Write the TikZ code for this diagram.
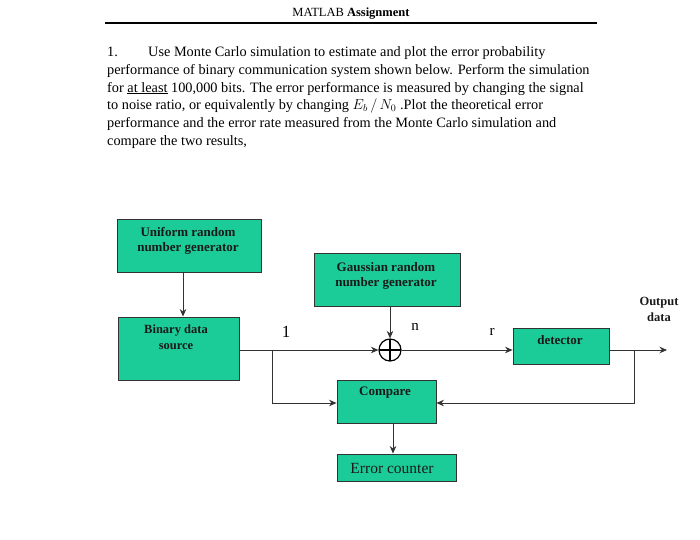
\documentclass[tikz,border=0pt]{standalone}
\usepackage{fontspec}
\setmainfont{Liberation Serif}
\usetikzlibrary{arrows.meta,calc}
\definecolor{boxfill}{RGB}{28,204,152}
\definecolor{linec}{RGB}{50,50,50}
\tikzset{
  box/.style={draw=black!80, line width=0.9pt, fill=boxfill, inner sep=0pt},
  lbl/.style={font=\rmfamily\fontsize{13}{15}\selectfont\bfseries, align=center, inner sep=0pt, text=black!90},
  conn/.style={draw=linec, line width=0.85pt},
  arr/.style={conn, -{Stealth[length=7.5pt,width=6.5pt]}},
  sig/.style={font=\rmfamily\fontsize{15}{17}\selectfont, inner sep=0pt}
}
\begin{document}
\begin{tikzpicture}[x=1pt,y=-1pt]
\useasboundingbox (0,0) rectangle (700,539);
% title
\node[font=\rmfamily\fontsize{12.5}{14}\selectfont, inner sep=0pt] (title) at (351,14) {MATLAB \textbf{Assignment}};
\draw[line width=1.1pt] (105,23) coordinate (ul) -- (597,23) coordinate (ur);
% paragraph
\node[anchor=north west, align=left, inner sep=0pt, font=\rmfamily\fontsize{14.3}{17.7}\selectfont] (para) at (107,46.5) {%
\makebox[41pt][l]{1.}Use Monte Carlo simulation to estimate and plot the error probability\\
performance of binary communication system shown below. Perform the simulation\\
for \underline{at least} 100,000 bits. The error performance is measured by changing the signal\\
to noise ratio, or equivalently by changing $E_b\,/\,N_0$ .Plot the theoretical error\\
performance and the error rate measured from the Monte Carlo simulation and\\
compare the two results,};
% boxes
\node[box, minimum width=144pt, minimum height=53pt] (uni) at (189,245.5) {};
\node[lbl] (uniL) at (188,241) {Uniform random\\number generator};
\node[box, minimum width=146pt, minimum height=53pt] (gau) at (387,280) {};
\node[lbl] (gauL) at (386,276) {Gaussian random\\number generator};
\node[box, minimum width=121pt, minimum height=63pt] (bin) at (178.5,348.5) {};
\node[lbl, font=\rmfamily\fontsize{12.5}{16}\selectfont\bfseries] (binL) at (176,337) {Binary data\\source};
\node[box, minimum width=96pt, minimum height=36pt] (det) at (561,346) {};
\node[lbl] (detL) at (560,340) {detector};
\node[box, minimum width=99pt, minimum height=43pt] (cmp) at (386.5,401.5) {};
\node[lbl] (cmpL) at (385,393) {Compare};
\node[box, minimum width=119pt, minimum height=27pt] (err) at (396.5,467.5) {};
\node[lbl, font=\rmfamily\fontsize{15.5}{17}\selectfont] (errL) at (392,468) {Error counter};
% summing junction
\node[draw=black, line width=1.2pt, circle, minimum size=22pt, inner sep=0pt, fill=white,
  path picture={\draw[line width=1.1pt] (path picture bounding box.north) -- (path picture bounding box.south)
  (path picture bounding box.west) -- (path picture bounding box.east);}] (sum) at (390,350) {};
% coordinates
\coordinate (ux) at (183,0);
\coordinate (j1) at (272,350);
\coordinate (j2) at (634,350);
\coordinate (out) at (667,350);
\coordinate (fb) at (0,403);
\coordinate (ex) at (393,0);
% connectors
\draw[arr] (uni.south -| ux) -- (bin.north -| ux);
\draw[arr] (gau.south -| sum) -- (sum.north);
\draw[arr] (bin.east |- j1) -- (sum.west);
\draw[arr] (sum.east) -- (det.west |- sum);
\draw[arr] (det.east |- j2) -- (out);
\draw[arr] (j1) -- (j1 |- fb) -- (cmp.west |- fb);
\draw[arr] (j2) -- (j2 |- fb) -- (cmp.east |- fb);
\draw[arr] (cmp.south -| ex) -- (err.north -| ex);
% signal labels
\node[sig, font=\rmfamily\fontsize{17}{19}\selectfont] (one) at (286,332) {1};
\node[sig] (nl) at (415,327) {n};
\node[sig] (rl) at (492,332) {r};
\node[lbl, font=\rmfamily\fontsize{12.5}{16}\selectfont\bfseries] (outL) at (659,309) {Output\\data};
\end{tikzpicture}
\end{document}
